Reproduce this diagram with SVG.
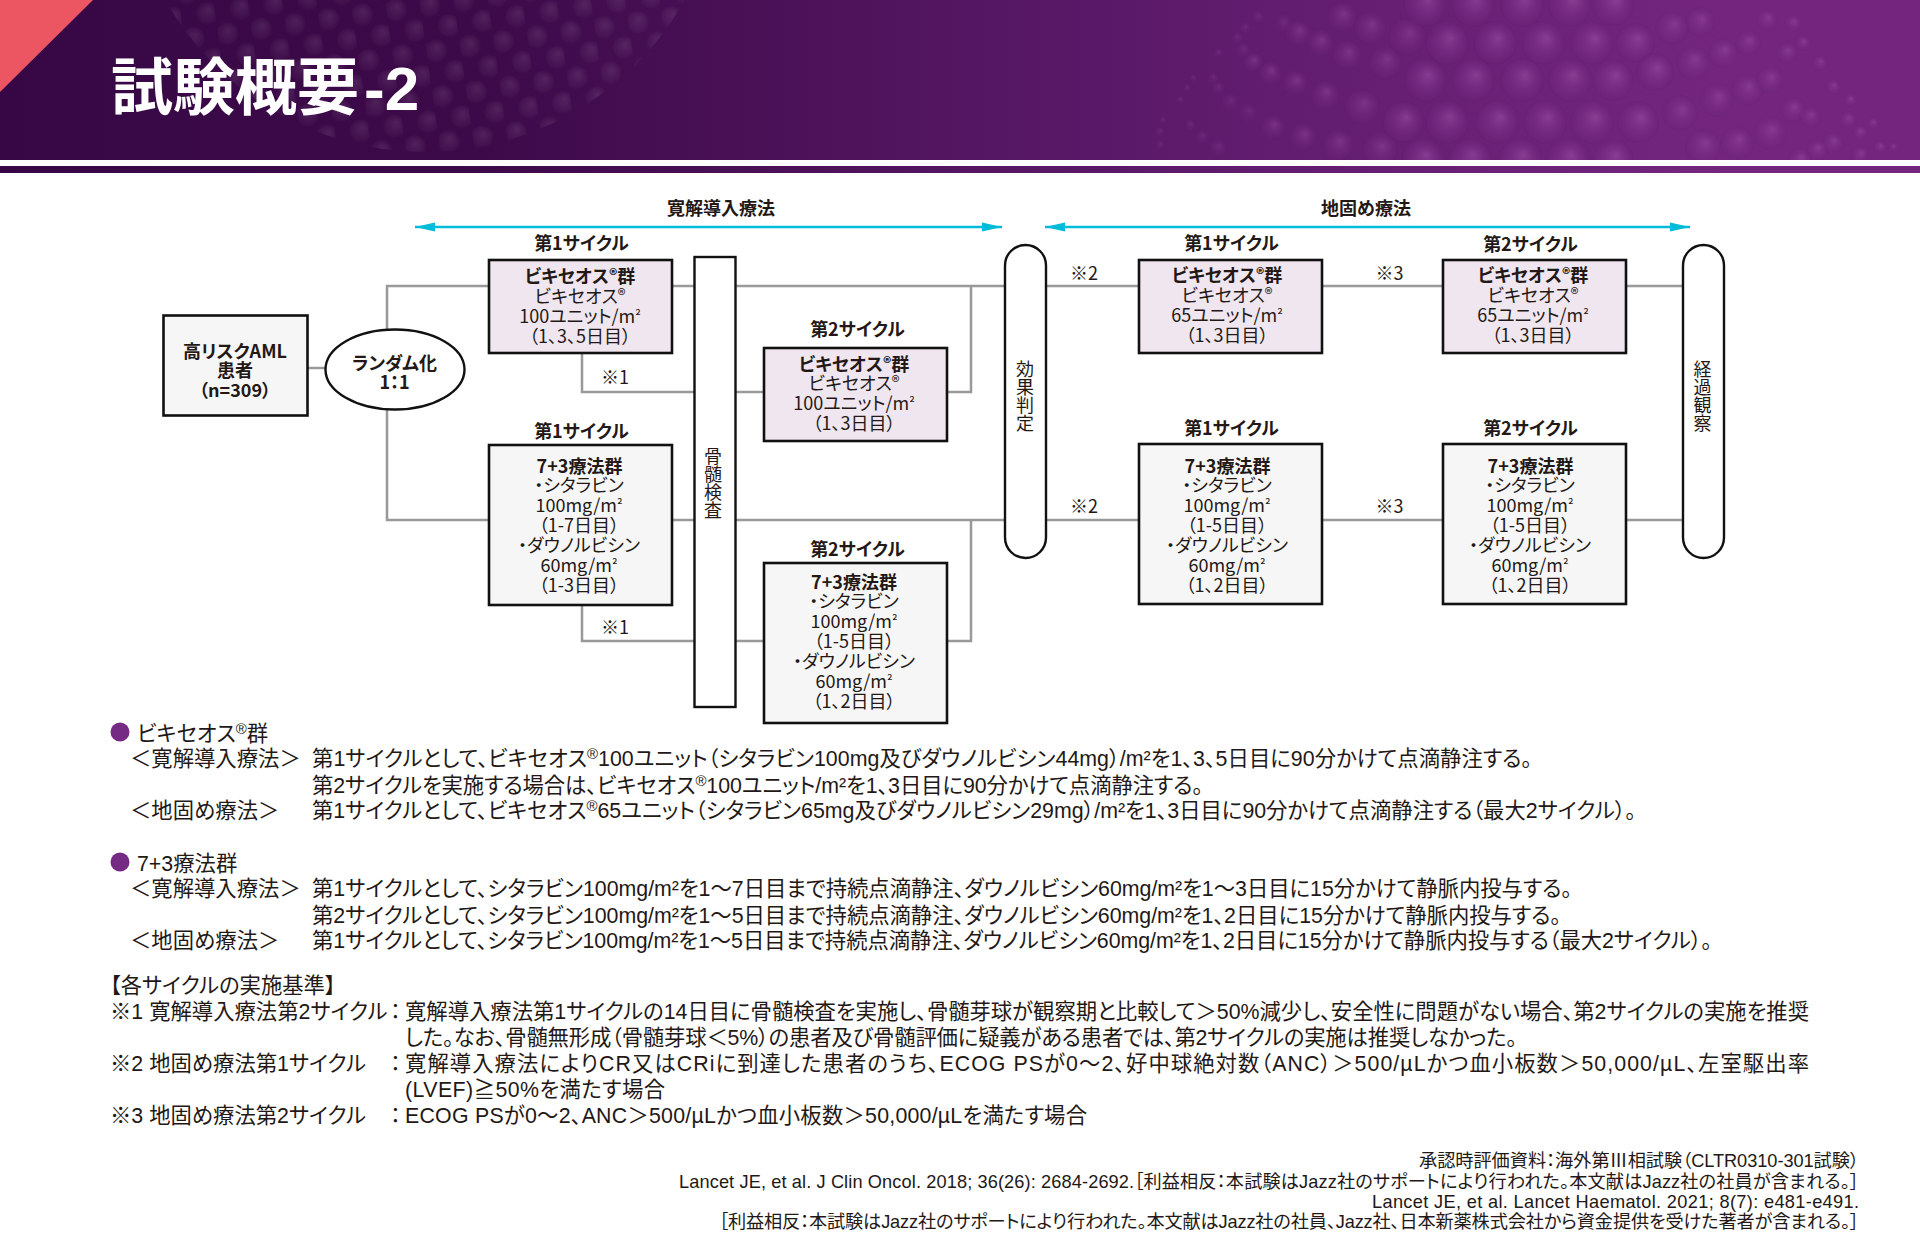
<svg xmlns="http://www.w3.org/2000/svg" width="1920" height="1248" viewBox="0 0 1920 1248">
<style>
text{fill:#231815;font-feature-settings:"palt";}
.d{font-family:"Noto Sans CJK JP","Noto Sans",sans-serif;font-size:18px;text-anchor:middle}
.b{font-weight:700}
.l{text-anchor:start}
.v{font-family:"Noto Sans CJK JP",sans-serif;font-size:18px;writing-mode:vertical-rl;font-feature-settings:normal}
.t{font-family:"Liberation Sans","Noto Sans CJK JP",sans-serif;font-size:21.35px}
.r{font-family:"Liberation Sans","Noto Sans CJK JP",sans-serif;font-size:18.2px;text-anchor:end}
.s{font-size:70%;baseline-shift:0.5em}
.d .s{font-size:90%;baseline-shift:0.1em}
.q{font-size:75%;baseline-shift:0.15em}
.box{stroke:#111;stroke-width:2.6}
.vy{fill:#efe6ef}
.gr{fill:#f6f6f6}
.w{fill:#fff;stroke:#111;stroke-width:2.4}
.cn{fill:none;stroke:#999;stroke-width:2.5}
.ar{fill:none;stroke:#00bcd8;stroke-width:2.4}
.bl{fill:url(#ball)}
.dot{fill:#752a84}
</style>
<defs>
<linearGradient id="hd" x1="0" x2="1" y1="0" y2="0"><stop offset="0" stop-color="#370745"/><stop offset=".25" stop-color="#3d0a49"/><stop offset=".6" stop-color="#5c1a6a"/><stop offset=".9" stop-color="#74267f"/><stop offset="1" stop-color="#74267f"/></linearGradient>
<radialGradient id="ball" cx=".5" cy=".5" r=".5" fx=".58" fy=".38"><stop offset="0" stop-color="#a35bab" stop-opacity=".5"/><stop offset=".55" stop-color="#8a3d96" stop-opacity=".28"/><stop offset=".92" stop-color="#6a2576" stop-opacity=".26"/><stop offset="1" stop-color="#4d1258" stop-opacity=".08"/></radialGradient>
<radialGradient id="dotg" cx=".5" cy=".5" r=".5" fx=".6" fy=".35"><stop offset="0" stop-color="#fff" stop-opacity=".1"/><stop offset=".8" stop-color="#fff" stop-opacity=".03"/><stop offset="1" stop-color="#000" stop-opacity=".05"/></radialGradient>
<pattern id="dots" width="34" height="46" patternUnits="userSpaceOnUse" patternTransform="translate(8 6) rotate(-8)"><circle cx="9" cy="12" r="12" fill="url(#dotg)"/><circle cx="26" cy="35" r="12" fill="url(#dotg)"/></pattern>
<clipPath id="hc"><rect width="1920" height="160"/></clipPath>
<marker id="ah" markerUnits="userSpaceOnUse" markerWidth="20" markerHeight="10" refX="20" refY="5" orient="auto-start-reverse"><path d="M0,.5 L20,5 L0,9.5Z" fill="#00bcd8"/></marker>
</defs>

<g id="header">
<rect width="1920" height="160" fill="url(#hd)"/>
<rect y="166" width="1920" height="7" fill="url(#hd)"/>
<g clip-path="url(#hc)">
<circle cx="425" cy="-146" r="298" fill="url(#dots)"/>
<g class="bl">
<circle cx="1425" cy="5" r="22"/><circle cx="1473" cy="5" r="22"/><circle cx="1522" cy="5" r="22"/><circle cx="1570" cy="5" r="22"/><circle cx="1613" cy="5" r="21"/>
<circle cx="1447" cy="43" r="22"/><circle cx="1495" cy="43" r="22"/><circle cx="1543" cy="43" r="22"/><circle cx="1592" cy="43" r="22"/><circle cx="1635" cy="43" r="20"/>
<circle cx="1425" cy="80" r="22"/><circle cx="1473" cy="80" r="22"/><circle cx="1522" cy="80" r="22"/><circle cx="1570" cy="80" r="22"/><circle cx="1613" cy="80" r="21"/><circle cx="1655" cy="72" r="19"/>
<circle cx="1403" cy="122" r="21"/><circle cx="1447" cy="122" r="22"/><circle cx="1497" cy="122" r="22"/><circle cx="1545" cy="122" r="22"/><circle cx="1592" cy="122" r="22"/><circle cx="1638" cy="122" r="21"/>
<circle cx="1423" cy="160" r="22"/><circle cx="1470" cy="160" r="22"/><circle cx="1520" cy="160" r="22"/><circle cx="1568" cy="160" r="22"/><circle cx="1613" cy="160" r="21"/>
</g>
<g class="bl" opacity=".8">
<circle cx="1672" cy="28" r="17"/><circle cx="1693" cy="63" r="17"/><circle cx="1723" cy="53" r="15"/><circle cx="1700" cy="22" r="15"/><circle cx="1748" cy="43" r="13"/><circle cx="1747" cy="90" r="16"/><circle cx="1717" cy="100" r="17"/><circle cx="1680" cy="113" r="18"/><circle cx="1770" cy="80" r="14"/><circle cx="1793" cy="110" r="13"/><circle cx="1770" cy="133" r="17"/><circle cx="1737" cy="143" r="17"/><circle cx="1703" cy="147" r="18"/><circle cx="1810" cy="117" r="11"/><circle cx="1833" cy="143" r="11"/><circle cx="1817" cy="150" r="11"/><circle cx="1860" cy="133" r="8"/><circle cx="1800" cy="160" r="12"/><circle cx="1787" cy="53" r="11"/><circle cx="1803" cy="43" r="8"/><circle cx="1767" cy="20" r="11"/><circle cx="1793" cy="23" r="9"/><circle cx="1820" cy="63" r="8"/><circle cx="1833" cy="87" r="8"/><circle cx="1850" cy="100" r="7"/><circle cx="1873" cy="123" r="6"/><circle cx="1880" cy="147" r="7"/><circle cx="1893" cy="147" r="5"/><circle cx="1848" cy="120" r="9"/><circle cx="1860" cy="155" r="9"/>
</g>
<g class="bl" opacity=".75">
<circle cx="1342" cy="17" r="15"/><circle cx="1370" cy="28" r="17"/><circle cx="1407" cy="37" r="19"/><circle cx="1298" cy="33" r="13"/><circle cx="1320" cy="43" r="14"/><circle cx="1347" cy="55" r="15"/><circle cx="1385" cy="63" r="17"/><circle cx="1270" cy="73" r="12"/><circle cx="1295" cy="83" r="13"/><circle cx="1325" cy="95" r="15"/><circle cx="1362" cy="107" r="18"/><circle cx="1253" cy="62" r="10"/><circle cx="1273" cy="127" r="12"/><circle cx="1303" cy="137" r="14"/><circle cx="1338" cy="145" r="16"/><circle cx="1380" cy="150" r="18"/>
</g>
<g class="bl" opacity=".45">
<circle cx="1243" cy="50" r="8"/><circle cx="1230" cy="102" r="9"/><circle cx="1248" cy="113" r="10"/><circle cx="1218" cy="88" r="7"/><circle cx="1213" cy="78" r="6"/><circle cx="1190" cy="125" r="6"/><circle cx="1202" cy="137" r="7"/><circle cx="1218" cy="148" r="9"/><circle cx="1283" cy="23" r="9"/><circle cx="1258" cy="17" r="7"/><circle cx="1245" cy="28" r="6"/><circle cx="1237" cy="38" r="6"/><circle cx="1218" cy="53" r="5"/><circle cx="1193" cy="78" r="4"/><circle cx="1187" cy="88" r="4"/><circle cx="1180" cy="100" r="4"/><circle cx="1163" cy="120" r="4"/><circle cx="1160" cy="132" r="5"/><circle cx="1160" cy="145" r="5"/>
</g></g>
<polygon points="0,0 93,0 0,92" fill="#ec5562"/>
<text x="111" y="109.5" font-family="Liberation Sans,Noto Sans CJK JP,sans-serif" font-weight="700" font-size="62" style="fill:#fff;font-feature-settings:normal">試験概要<tspan dx="5">-2</tspan></text>
</g>

<g id="connectors" class="cn">
<path d="M308,368H326"/>
<path d="M387,329V286H489"/>
<path d="M387,409V520H489"/>
<path d="M672,286H694"/>
<path d="M672,520H694"/>
<path d="M582,353V392H694"/>
<path d="M582,605V641H694"/>
<path d="M735,286H1005"/>
<path d="M735,520H1005"/>
<path d="M735,392H764"/>
<path d="M735,641H764"/>
<path d="M947,392H971V286"/>
<path d="M947,641H971V520"/>
<path d="M1045,286H1139"/>
<path d="M1045,520H1139"/>
<path d="M1322,286H1443"/>
<path d="M1322,520H1443"/>
<path d="M1626,286H1683"/>
<path d="M1626,520H1683"/>
<path class="ar" d="M415,227H1002" marker-start="url(#ah)" marker-end="url(#ah)"/>
<path class="ar" d="M1045,227H1690" marker-start="url(#ah)" marker-end="url(#ah)"/>
</g>

<g id="phase-labels">
<text class="d b" x="721" y="215">寛解導入療法</text>
<text class="d b" x="1366" y="215">地固め療法</text>
</g>

<g id="n-aml"><rect class="box gr" x="163.5" y="315.5" width="144" height="100"/>
<text class="d b" x="235" y="358">高リスクAML</text><text class="d b" x="235" y="377">患者</text><text class="d b" x="235" y="397">（n=309）</text></g>
<g id="n-random"><ellipse class="w" cx="395" cy="369.5" rx="69.5" ry="40"/>
<text class="d b" x="394.5" y="369.5">ランダム化</text><text class="d b" x="394.5" y="388.5">1：1</text></g>

<g id="n-vy-c1"><text class="d b" x="581.5" y="250">第1サイクル</text><rect class="box vy" x="489" y="260" width="183" height="93"/>
<text class="d b" x="580" y="283">ビキセオス<tspan class="s">®</tspan>群</text><text class="d" x="580" y="302.5">ビキセオス<tspan class="s">®</tspan></text><text class="d" x="580" y="322.5">100ユニット/m<tspan class="q">²</tspan></text><text class="d" x="580" y="342.5">（1、3、5日目）</text></g>
<g id="n-73-c1"><text class="d b" x="581.5" y="438">第1サイクル</text><rect class="box gr" x="489" y="445" width="183" height="160"/>
<text class="d b" x="579.5" y="472.5">7+3療法群</text><text class="d" x="579" y="492">・シタラビン</text><text class="d" x="579" y="512">100mg/m<tspan class="q">²</tspan></text><text class="d" x="579" y="532">（1-7日目）</text><text class="d" x="579" y="552">・ダウノルビシン</text><text class="d" x="579" y="572">60mg/m<tspan class="q">²</tspan></text><text class="d" x="579" y="592">（1-3日目）</text></g>
<g id="n-marrow"><rect class="w" x="694.5" y="257" width="41" height="450"/><text class="v" x="713" y="447">骨髄検査</text></g>
<g id="n-vy-c2"><text class="d b" x="857.5" y="336">第2サイクル</text><rect class="box vy" x="764" y="348" width="183" height="93"/>
<text class="d b" x="854" y="370.5">ビキセオス<tspan class="s">®</tspan>群</text><text class="d" x="854" y="390">ビキセオス<tspan class="s">®</tspan></text><text class="d" x="854" y="410">100ユニット/m<tspan class="q">²</tspan></text><text class="d" x="854" y="430">（1、3日目）</text></g>
<g id="n-73-c2"><text class="d b" x="857.5" y="556">第2サイクル</text><rect class="box gr" x="764" y="563" width="183" height="160"/>
<text class="d b" x="854" y="588.5">7+3療法群</text><text class="d" x="854" y="608">・シタラビン</text><text class="d" x="854" y="628">100mg/m<tspan class="q">²</tspan></text><text class="d" x="854" y="648">（1-5日目）</text><text class="d" x="854" y="668">・ダウノルビシン</text><text class="d" x="854" y="688">60mg/m<tspan class="q">²</tspan></text><text class="d" x="854" y="708">（1、2日目）</text></g>
<g id="n-eval"><rect class="w" x="1005" y="245" width="41" height="313" rx="20.5" ry="20.5"/><text class="v" x="1025" y="360">効果判定</text></g>
<g id="n-vy-c3"><text class="d b" x="1231.5" y="250">第1サイクル</text><rect class="box vy" x="1139" y="260" width="183" height="93"/>
<text class="d b" x="1227" y="282">ビキセオス<tspan class="s">®</tspan>群</text><text class="d" x="1227" y="302">ビキセオス<tspan class="s">®</tspan></text><text class="d" x="1227" y="322">65ユニット/m<tspan class="q">²</tspan></text><text class="d" x="1227" y="342">（1、3日目）</text></g>
<g id="n-vy-c4"><text class="d b" x="1530.5" y="251">第2サイクル</text><rect class="box vy" x="1443" y="260" width="183" height="93"/>
<text class="d b" x="1533" y="282">ビキセオス<tspan class="s">®</tspan>群</text><text class="d" x="1533" y="302">ビキセオス<tspan class="s">®</tspan></text><text class="d" x="1533" y="322">65ユニット/m<tspan class="q">²</tspan></text><text class="d" x="1533" y="342">（1、3日目）</text></g>
<g id="n-73-c3"><text class="d b" x="1231.5" y="435">第1サイクル</text><rect class="box gr" x="1139" y="444" width="183" height="160"/>
<text class="d b" x="1227.5" y="472.5">7+3療法群</text><text class="d" x="1227" y="492">・シタラビン</text><text class="d" x="1227" y="512">100mg/m<tspan class="q">²</tspan></text><text class="d" x="1227" y="532">（1-5日目）</text><text class="d" x="1227" y="552">・ダウノルビシン</text><text class="d" x="1227" y="572">60mg/m<tspan class="q">²</tspan></text><text class="d" x="1227" y="592">（1、2日目）</text></g>
<g id="n-73-c4"><text class="d b" x="1530.5" y="435">第2サイクル</text><rect class="box gr" x="1443" y="444" width="183" height="160"/>
<text class="d b" x="1530.5" y="472.5">7+3療法群</text><text class="d" x="1530" y="492">・シタラビン</text><text class="d" x="1530" y="512">100mg/m<tspan class="q">²</tspan></text><text class="d" x="1530" y="532">（1-5日目）</text><text class="d" x="1530" y="552">・ダウノルビシン</text><text class="d" x="1530" y="572">60mg/m<tspan class="q">²</tspan></text><text class="d" x="1530" y="592">（1、2日目）</text></g>
<g id="n-followup"><rect class="w" x="1683" y="245" width="41" height="313" rx="20.5" ry="20.5"/><text class="v" x="1702.5" y="360">経過観察</text></g>

<g id="connector-labels">
<text class="d l" x="601" y="384">※1</text><text class="d l" x="601" y="634">※1</text>
<text class="d l" x="1070" y="280">※2</text><text class="d l" x="1070" y="513">※2</text>
<text class="d l" x="1375.5" y="280">※3</text><text class="d l" x="1375.5" y="513">※3</text>
</g>

<g id="notes">
<circle class="dot" cx="120" cy="732" r="9.5"/>
<text class="t" x="137" y="741">ビキセオス<tspan class="s">®</tspan>群</text>
<text class="t" x="130" y="766">＜寛解導入療法＞</text>
<text class="t" x="312" y="766" textLength="1220">第1サイクルとして、ビキセオス<tspan class="s">®</tspan>100ユニット（シタラビン100mg及びダウノルビシン44mg）/m²を1、3、5日目に90分かけて点滴静注する。</text>
<text class="t" x="312" y="792.5" textLength="891">第2サイクルを実施する場合は、ビキセオス<tspan class="s">®</tspan>100ユニット/m²を1、3日目に90分かけて点滴静注する。</text>
<text class="t" x="130" y="818">＜地固め療法＞</text>
<text class="t" x="312" y="818" textLength="1324">第1サイクルとして、ビキセオス<tspan class="s">®</tspan>65ユニット（シタラビン65mg及びダウノルビシン29mg）/m²を1、3日目に90分かけて点滴静注する（最大2サイクル）。</text>
<circle class="dot" cx="120" cy="862" r="9.5"/>
<text class="t" x="137" y="870.5">7+3療法群</text>
<text class="t" x="130" y="896">＜寛解導入療法＞</text>
<text class="t" x="312" y="896" textLength="1260">第1サイクルとして、シタラビン100mg/m²を1～7日目まで持続点滴静注、ダウノルビシン60mg/m²を1～3日目に15分かけて静脈内投与する。</text>
<text class="t" x="312" y="922.5" textLength="1249">第2サイクルとして、シタラビン100mg/m²を1～5日目まで持続点滴静注、ダウノルビシン60mg/m²を1、2日目に15分かけて静脈内投与する。</text>
<text class="t" x="130" y="948">＜地固め療法＞</text>
<text class="t" x="312" y="948" textLength="1400">第1サイクルとして、シタラビン100mg/m²を1～5日目まで持続点滴静注、ダウノルビシン60mg/m²を1、2日目に15分かけて静脈内投与する（最大2サイクル）。</text>
<text class="t" x="110" y="993">【各サイクルの実施基準】</text>
<text class="t" x="110" y="1019">※1 寛解導入療法第2サイクル</text>
<text class="t" x="390" y="1019">：</text>
<text class="t" x="405" y="1019" textLength="1404">寛解導入療法第1サイクルの14日目に骨髄検査を実施し、骨髄芽球が観察期と比較して＞50%減少し、安全性に問題がない場合、第2サイクルの実施を推奨</text>
<text class="t" x="405" y="1045" textLength="1112">した。なお、骨髄無形成（骨髄芽球＜5%）の患者及び骨髄評価に疑義がある患者では、第2サイクルの実施は推奨しなかった。</text>
<text class="t" x="110" y="1071">※2 地固め療法第1サイクル</text>
<text class="t" x="390" y="1071">：</text>
<text class="t" x="405" y="1071" textLength="1404">寛解導入療法によりCR又はCRiに到達した患者のうち、ECOG PSが0～2、好中球絶対数（ANC）＞500/µLかつ血小板数＞50,000/µL、左室駆出率</text>
<text class="t" x="405" y="1097" textLength="260">(LVEF)≧50%を満たす場合</text>
<text class="t" x="110" y="1123">※3 地固め療法第2サイクル</text>
<text class="t" x="390" y="1123">：</text>
<text class="t" x="405" y="1123" textLength="682">ECOG PSが0～2、ANC＞500/µLかつ血小板数＞50,000/µLを満たす場合</text>
</g>
<g id="refs">
<text class="r" x="1859" y="1167" textLength="440">承認時評価資料：海外第Ⅲ相試験（CLTR0310-301試験）</text>
<text class="r" x="1859" y="1188" textLength="1180">Lancet JE, et al. J Clin Oncol. 2018; 36(26): 2684-2692.［利益相反：本試験はJazz社のサポートにより行われた。本文献はJazz社の社員が含まれる。］</text>
<text class="r" x="1859" y="1208" textLength="487">Lancet JE, et al. Lancet Haematol. 2021; 8(7): e481-e491.</text>
<text class="r" x="1859" y="1228" textLength="1140">［利益相反：本試験はJazz社のサポートにより行われた。本文献はJazz社の社員、Jazz社、日本新薬株式会社から資金提供を受けた著者が含まれる。］</text>
</g>
</svg>
